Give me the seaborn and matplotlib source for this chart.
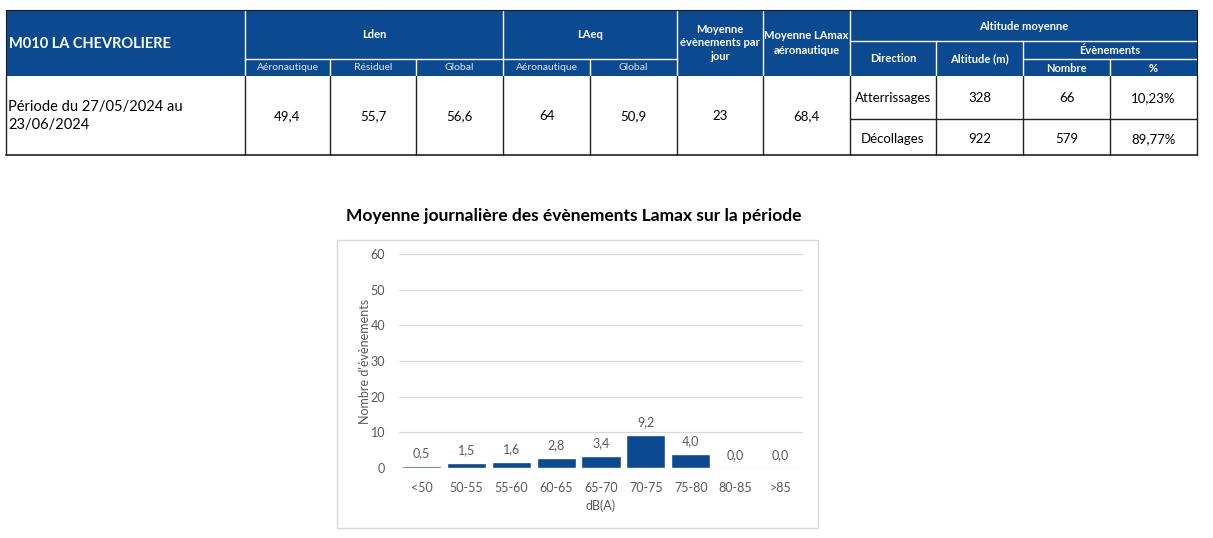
import matplotlib
matplotlib.use("Agg")
import matplotlib.pyplot as plt
import seaborn as sns
import pandas as pd
from matplotlib.patches import Rectangle
from matplotlib.lines import Line2D

# ---------------- data ----------------
categories = ["<50", "50-55", "55-60", "60-65", "65-70", "70-75", "75-80", "80-85", ">85"]
values = [0.5, 1.5, 1.6, 2.8, 3.4, 9.2, 4.0, 0.0, 0.0]
y_ticks = [0, 10, 20, 30, 40, 50, 60]

chart_title = "Moyenne journalière des évènements Lamax sur la période"
x_label = "dB(A)"
y_label = "Nombre d'évènements"

station = "M010 LA CHEVROLIERE"
period = "Période du 27/05/2024 au\n23/06/2024"
lden_labels = ["Aéronautique", "Résiduel", "Global"]
lden_values = ["49,4", "55,7", "56,6"]
laeq_labels = ["Aéronautique", "Global"]
laeq_values = ["64", "50,9"]
mean_events = "23"
mean_lamax = "68,4"
directions = ["Atterrissages", "Décollages"]
altitudes = ["328", "922"]
event_counts = ["66", "579"]
event_pcts = ["10,23%", "89,77%"]

# ---------------- style ----------------
W, H = 1213, 538
BLUE = "#0B4A91"
GREY = "#595959"
FONT = ["Lato", "DejaVu Sans"]

sns.set_theme(style="white")
plt.rcParams["font.family"] = FONT

fig = plt.figure(figsize=(W / 100, H / 100), dpi=100)
fig.patch.set_facecolor("white")


def fx(x):
    return x / W


def fy(y):
    return 1 - y / H


def rect(x0, y0, x1, y1, fc, ec="none", lw=0.0, z=1):
    fig.add_artist(Rectangle((fx(x0), fy(y1)), (x1 - x0) / W, (y1 - y0) / H,
                             transform=fig.transFigure, facecolor=fc,
                             edgecolor=ec, lw=lw, zorder=z))


def hline(x0, x1, y, color, lw=1.0):
    fig.add_artist(Line2D([fx(x0), fx(x1)], [fy(y), fy(y)], transform=fig.transFigure,
                          color=color, lw=lw))


def vline(x, y0, y1, color, lw=1.0):
    fig.add_artist(Line2D([fx(x), fx(x)], [fy(y0), fy(y1)], transform=fig.transFigure,
                          color=color, lw=lw))


def txt(x, y, s, size=8, weight="normal", color="black", ha="center", va="center", **kw):
    fig.text(fx(x), fy(y), s, fontsize=size, fontweight=weight, color=color,
             ha=ha, va=va, **kw)


# ---------------- table ----------------
cols = [6, 245, 330, 416, 503, 590, 677, 763, 850, 936, 1023, 1110, 1197]
T0, T1, T2, T3, T4 = 10, 40.5, 58.5, 75.5, 155

rect(cols[0], T0, cols[-1], T3, BLUE)
rect(cols[0], T3, cols[-1], T4, "white")

# white separators inside header
for c in [245, 503, 677, 763, 850]:
    vline(c, T0, T3, "white", 1.0)
hline(245, 677, T2, "white", 1.0)
for c in [330, 416, 590]:
    vline(c, T2, T3, "white", 1.0)
hline(850, 1197, T1, "white", 1.0)
for c in [936, 1023]:
    vline(c, T1, T3, "white", 1.0)
hline(1023, 1197, T2, "white", 1.0)
vline(1110, T2, T3, "white", 1.0)

# body borders
for c in cols:
    vline(c, T3, T4, "#222222", 1.0)
hline(cols[0], cols[-1], T4, "#222222", 1.2)
hline(850, 1197, 118.5, "#222222", 1.0)
hline(cols[0], cols[-1], T0, "#1a1a1a", 0.8)
vline(cols[0], T0, T3, "#1a1a1a", 0.8)
vline(cols[-1], T0, T3, "#1a1a1a", 0.8)

# header texts
txt(9, 44, station, size=10.5, weight="bold", color="white", ha="left")
txt((245 + 503) / 2, 34, "Lden", size=8, weight="bold", color="white")
txt((503 + 677) / 2, 34, "LAeq", size=8, weight="bold", color="white")
sub_cols = [(245, 330), (330, 416), (416, 503)]
for (a, b), lab in zip(sub_cols, lden_labels):
    txt((a + b) / 2, 68, lab, size=7.5, color="#dfe6f0")
for (a, b), lab in zip([(503, 590), (590, 677)], laeq_labels):
    txt((a + b) / 2, 68, lab, size=7.5, color="#dfe6f0")
txt(720, 43, "Moyenne\névènements par\njour", size=8, weight="bold", color="white",
    linespacing=1.3)
txt(806.5, 43, "Moyenne LAmax\naéronautique", size=8, weight="bold", color="white",
    linespacing=1.35)
txt((850 + 1197) / 2, 26, "Altitude moyenne", size=8, weight="bold", color="white")
txt(893, 59, "Direction", size=8, weight="bold", color="white")
txt(979.5, 59, "Altitude (m)", size=8, weight="bold", color="white")
txt(1110, 51, "Évènements", size=8, weight="bold", color="white")
txt(1066.5, 68, "Nombre", size=8, weight="bold", color="white")
txt(1153.5, 68, "%", size=8, weight="bold", color="white")

# body texts
txt(8, 116, period, size=10.5, ha="left", linespacing=1.35)
body_vals = lden_values + laeq_values + [mean_events, mean_lamax]
for i, v in enumerate(body_vals):
    txt((cols[i + 1] + cols[i + 2]) / 2, 116, v, size=9.5)
for r, yc in enumerate([98, 139]):
    txt(893, yc, directions[r], size=9.5)
    txt(979.5, yc, altitudes[r], size=9.5)
    txt(1066.5, yc, event_counts[r], size=9.5)
    txt(1153.5, yc, event_pcts[r], size=9.5)

# ---------------- chart ----------------
rect(337, 240, 818, 528, "white", ec="#d9d9d9", lw=1.0, z=-1)
txt(574, 216, chart_title, size=12.5, weight="bold", color="black")

ax = fig.add_axes([fx(399), fy(468), (803 - 399) / W, (468 - 254) / H])
ax.set_facecolor("none")
df = pd.DataFrame({"cat": categories, "val": values})
sns.barplot(data=df, x="cat", y="val", color=BLUE, saturation=1, width=0.87, ax=ax)
ax.set_ylim(0, 60)
ax.set_yticks(y_ticks)
ax.set_xlim(-0.5, len(categories) - 0.5)
ax.yaxis.grid(True, color="#d9d9d9", lw=0.9)
ax.set_axisbelow(True)
for s in ax.spines.values():
    s.set_visible(False)
ax.tick_params(axis="both", length=0, colors=GREY, labelsize=9)
ax.tick_params(axis="x", pad=10)
ax.tick_params(axis="y", pad=10)
ax.set_xlabel(x_label, color=GREY, fontsize=9)
ax.set_ylabel(y_label, color=GREY, fontsize=9)
ax.xaxis.set_label_coords(0.5, -0.145)
ax.yaxis.set_label_coords((371 - 399) / 404, 0.5)
ax.bar_label(ax.containers[0], labels=[f"{v:.1f}".replace(".", ",") for v in values],
             padding=5, color=GREY, fontsize=9)

fig.savefig("out.png", dpi=100, facecolor="white")
